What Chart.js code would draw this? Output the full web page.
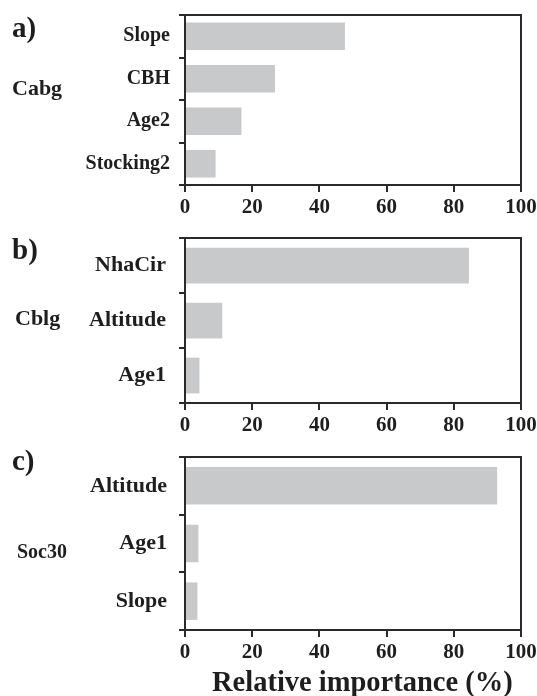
<!DOCTYPE html>
<html>
<head>
<meta charset="utf-8">
<script src="https://cdn.jsdelivr.net/npm/chart.js@4.4.1/dist/chart.umd.min.js"></script>
<style>
  html, body { margin: 0; padding: 0; background: #fff; width: 537px; height: 696px; overflow: hidden; }
  .panel { position: absolute; left: 0; }
</style>
</head>
<body>
<div class="panel" id="wrapA"><canvas id="chartA"></canvas></div>
<div class="panel" id="wrapB"><canvas id="chartB"></canvas></div>
<div class="panel" id="wrapC"><canvas id="chartC"></canvas></div>

<script>
/* ---- data ---- */
const xTicks = [0, 20, 40, 60, 80, 100];

const catsA = ['Slope', 'CBH', 'Age2', 'Stocking2'];
const valsA = [47.6, 26.8, 16.8, 9.1];

const catsB = ['NhaCir', 'Altitude', 'Age1'];
const valsB = [84.5, 11.1, 4.3];

const catsC = ['Altitude', 'Age1', 'Slope'];
const valsC = [92.9, 4.0, 3.7];

const panelLetters = ['a)', 'b)', 'c)'];
const responseNames = ['Cabg', 'Cblg', 'Soc30'];
const axisTitle = 'Relative importance (%)';

/* ---- styling ---- */
const SERIF = "'Liberation Serif', 'Times New Roman', serif";
const AXIS = '#2a2a2a';
const TEXT = '#1e1e1e';
const BAR = '#c8c9cb';
const CANVAS_W = 560;

// draws the top and right edges of the plot box
const framePlugin = {
  id: 'frame',
  afterDraw(chart) {
    const { ctx, chartArea: a } = chart;
    ctx.save();
    ctx.strokeStyle = AXIS;
    ctx.lineWidth = 2;
    ctx.beginPath();
    ctx.moveTo(a.left, a.top);
    ctx.lineTo(a.right, a.top);
    ctx.lineTo(a.right, a.bottom + 1);
    ctx.stroke();
    ctx.restore();
  }
};

// free labels (panel letter, response name, axis title), given in page coords
const textPlugin = {
  id: 'freeText',
  afterDraw(chart, args, opts) {
    const { ctx } = chart;
    ctx.save();
    ctx.fillStyle = TEXT;
    ctx.textBaseline = 'alphabetic';
    ctx.textAlign = 'left';
    (opts.items || []).forEach(it => {
      ctx.font = `bold ${it.size}px ${SERIF}`;
      ctx.fillText(it.text, it.x, it.y - opts.top);
    });
    ctx.restore();
  }
};

function makePanel(id, wrapId, cats, vals, cfg) {
  const padTop = 10;
  const h = padTop + cfg.plotH + cfg.xAxisH;
  const top = cfg.plotTop - padTop;
  const wrap = document.getElementById(wrapId);
  wrap.style.top = top + 'px';
  const canvas = document.getElementById(id);
  canvas.width = CANVAS_W;
  canvas.height = h;

  return new Chart(canvas, {
    type: 'bar',
    data: {
      labels: cats,
      datasets: [{
        data: vals,
        backgroundColor: BAR,
        borderWidth: 0,
        categoryPercentage: 1,
        barPercentage: 0.65
      }]
    },
    options: {
      indexAxis: 'y',
      responsive: false,
      animation: false,
      devicePixelRatio: 1,
      layout: { padding: { top: padTop, right: CANVAS_W - 521, left: 0, bottom: 0 } },
      plugins: {
        legend: { display: false },
        tooltip: { enabled: false },
        freeText: { top: top, items: cfg.texts }
      },
      scales: {
        x: {
          type: 'linear',
          min: 0,
          max: 100,
          z: 1,
          afterBuildTicks: s => { s.ticks = xTicks.map(v => ({ value: v })); },
          afterFit: s => { s.height = cfg.xAxisH; s.paddingLeft = 0; s.paddingRight = 0; },
          grid: { drawOnChartArea: false, tickLength: 7, color: AXIS, lineWidth: 2 },
          border: { display: true, color: AXIS, width: 2 },
          ticks: {
            font: { family: SERIF, size: 21, weight: 'bold' },
            color: TEXT,
            padding: 3,
            maxRotation: 0,
            autoSkip: false
          }
        },
        y: {
          type: 'category',
          z: 1,
          afterFit: s => { s.width = 185; s.paddingTop = 0; s.paddingBottom = 0; },
          grid: { offset: true, drawOnChartArea: false, tickLength: 6, color: AXIS, lineWidth: 2 },
          border: { display: true, color: AXIS, width: 2 },
          ticks: {
            font: { family: SERIF, size: cfg.catFont, weight: 'bold' },
            color: TEXT,
            padding: cfg.labelPad,
            autoSkip: false
          }
        }
      }
    },
    plugins: [framePlugin, textPlugin]
  });
}

makePanel('chartA', 'wrapA', catsA, valsA, {
  plotTop: 15, plotH: 170, xAxisH: 40, catFont: 20, labelPad: 9,
  texts: [
    { text: panelLetters[0], x: 12, y: 37, size: 29 },
    { text: responseNames[0], x: 12, y: 95, size: 22 }
  ]
});

makePanel('chartB', 'wrapB', catsB, valsB, {
  plotTop: 238, plotH: 165, xAxisH: 40, catFont: 22, labelPad: 13,
  texts: [
    { text: panelLetters[1], x: 12, y: 259, size: 29 },
    { text: responseNames[1], x: 15, y: 325, size: 22 }
  ]
});

makePanel('chartC', 'wrapC', catsC, valsC, {
  plotTop: 457, plotH: 173, xAxisH: 66, catFont: 22, labelPad: 12,
  texts: [
    { text: panelLetters[2], x: 12, y: 470, size: 29 },
    { text: responseNames[2], x: 17, y: 558, size: 20 },
    { text: axisTitle, x: 212, y: 691, size: 28.5 }
  ]
});
</script>
</body>
</html>
